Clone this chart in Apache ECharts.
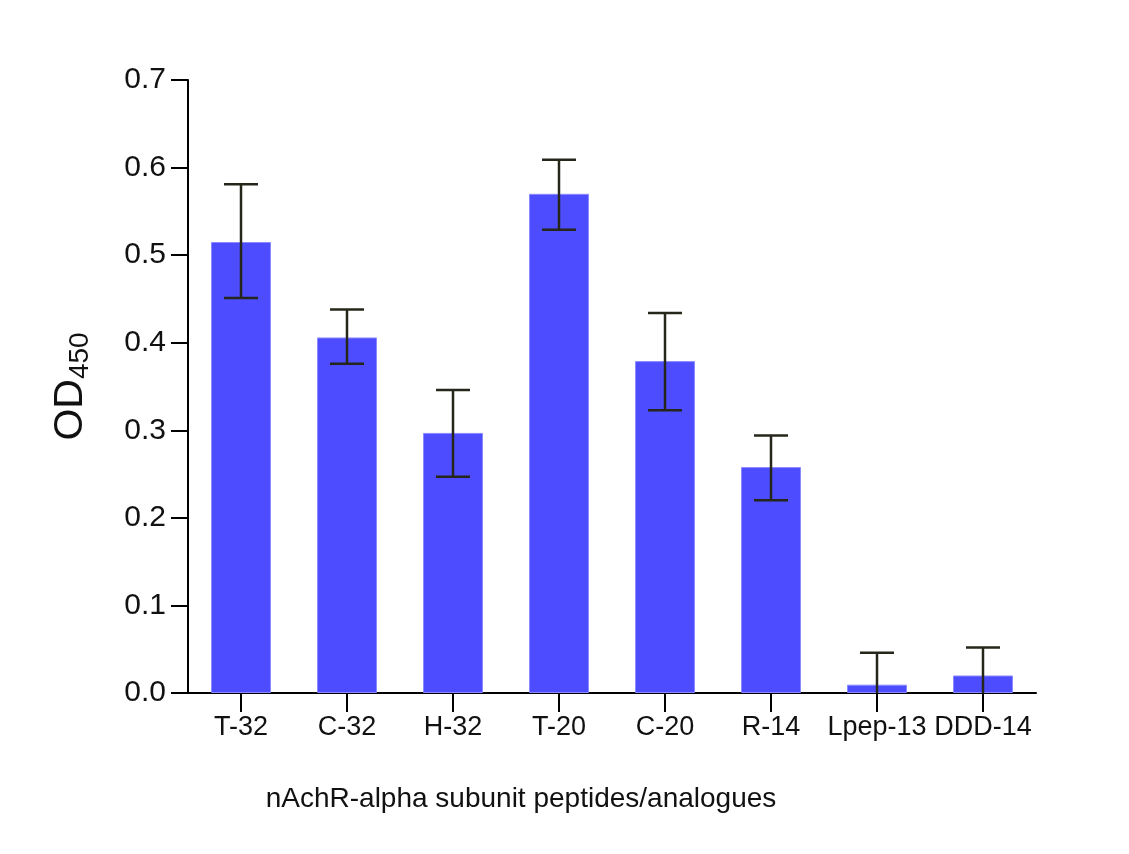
<!DOCTYPE html>
<html>
<head>
<meta charset="utf-8">
<script src="https://cdn.jsdelivr.net/npm/echarts@6/dist/echarts.min.js"></script>
<style>
html,body{margin:0;padding:0;background:#fff;}
#chart{width:1129px;height:854px;}
</style>
</head>
<body>
<div id="chart"></div>
<script>
var categories = ['T-32','C-32','H-32','T-20','C-20','R-14','Lpep-13','DDD-14'];
var means = [0.515, 0.406, 0.297, 0.570, 0.379, 0.258, 0.0095, 0.020];
var errHigh = [0.581, 0.438, 0.346, 0.609, 0.434, 0.294, 0.046, 0.052];
var errLow = [0.451, 0.376, 0.247, 0.529, 0.323, 0.220, 0.0, 0.0];
var yTicks = [0, 0.1, 0.2, 0.3, 0.4, 0.5, 0.6, 0.7];

var chart = echarts.init(document.getElementById('chart'));
var errData = categories.map(function(c, i){ return [i, errLow[i], errHigh[i]]; });
var FONT = 'Liberation Sans, Arial, sans-serif';

chart.setOption({
  animation: false,
  backgroundColor: '#ffffff',
  grid: {left: 188, right: 93, top: 80, bottom: 161, containLabel: false},
  xAxis: {
    type: 'category',
    data: categories,
    name: 'nAchR-alpha subunit peptides/analogues',
    nameLocation: 'middle',
    nameGap: 92,
    nameTextStyle: {fontFamily: FONT, fontSize: 28, color: '#111', padding: [0, 182, 0, 0]},
    axisLine: {lineStyle: {color: '#000', width: 2}},
    axisTick: {show: true, alignWithLabel: true, length: 19, lineStyle: {color: '#000', width: 2}},
    axisLabel: {fontFamily: FONT, fontSize: 27, color: '#111', margin: 21, interval: 0}
  },
  yAxis: {
    type: 'value',
    min: 0, max: 0.7, interval: 0.1,
    name: '{a|OD}{b|450}',
    nameLocation: 'middle',
    nameGap: 94,
    nameRotate: 90,
    nameTextStyle: {
      rich: {
        a: {fontFamily: FONT, fontSize: 41, color: '#111'},
        b: {fontFamily: FONT, fontSize: 28, color: '#111', padding: [18, 0, 0, 0]}
      }
    },
    splitLine: {show: false},
    axisLine: {show: true, lineStyle: {color: '#000', width: 2}},
    axisTick: {show: true, length: 17, lineStyle: {color: '#000', width: 2}},
    axisLabel: {
      fontFamily: FONT, fontSize: 30, color: '#111', margin: 22,
      formatter: function(v){ return v.toFixed(1); }
    }
  },
  series: [
    {
      type: 'bar',
      data: means,
      barWidth: 60,
      itemStyle: {color: '#4d4dff', borderColor: '#8a8aff', borderWidth: 1}
    },
    {
      type: 'custom',
      data: errData,
      z: 10,
      renderItem: function(params, api){
        var x = api.value(0);
        var lo = api.value(1), hi = api.value(2);
        var pHi = api.coord([x, hi]);
        var pLo = api.coord([x, lo]);
        var half = 17;
        var style = {stroke: '#26261a', lineWidth: 2.5};
        var children = [
          {type: 'line', shape: {x1: pHi[0], y1: pHi[1], x2: pLo[0], y2: pLo[1]}, style: style},
          {type: 'line', shape: {x1: pHi[0]-half, y1: pHi[1], x2: pHi[0]+half, y2: pHi[1]}, style: style}
        ];
        if (lo > 0) {
          children.push({type: 'line', shape: {x1: pLo[0]-half, y1: pLo[1], x2: pLo[0]+half, y2: pLo[1]}, style: style});
        }
        return {type: 'group', children: children};
      }
    }
  ]
});
</script>
</body>
</html>
